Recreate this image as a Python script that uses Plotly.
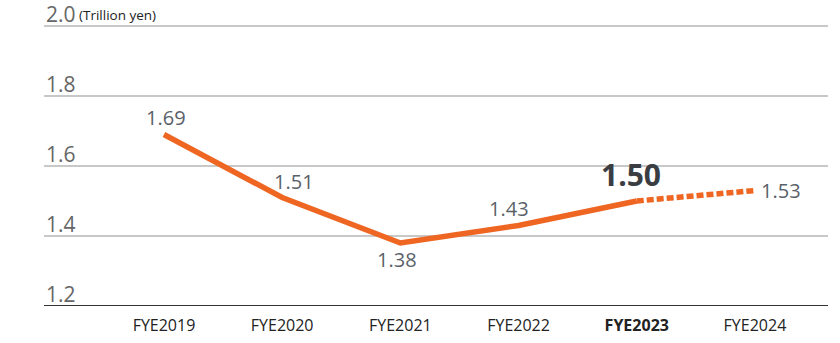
import plotly.graph_objects as go

categories = ["FYE2019", "FYE2020", "FYE2021", "FYE2022", "FYE2023", "FYE2024"]
values = [1.69, 1.51, 1.38, 1.43, 1.50, 1.53]
value_labels = ["1.69", "1.51", "1.38", "1.43", "1.50", "1.53"]
y_ticks = [1.2, 1.4, 1.6, 1.8, 2.0]
y_tick_labels = ["1.2", "1.4", "1.6", "1.8", "2.0"]
highlight = "FYE2023"
unit_label = "(Trillion yen)"

ORANGE = "#EE6622"
FONT = "Open Sans, Noto Sans, sans-serif"
x_idx = list(range(len(categories)))

fig = go.Figure()
fig.add_trace(go.Scatter(x=x_idx[:5], y=values[:5], mode="lines",
                         line=dict(color=ORANGE, width=5.5), hoverinfo="skip"))
fig.add_trace(go.Scatter(x=x_idx[4:], y=values[4:], mode="lines",
                         line=dict(color=ORANGE, width=5.5, dash="7px,3px"), hoverinfo="skip"))

# label offsets (px): (xshift, yshift, style)
offsets = [(2, 17, "n"), (12, 16, "n"), (-3, -16, "n"), (-10, 17, "n"), (-6, 27, "b"), (26, 0, "n")]
for i, (v, t) in enumerate(zip(values, value_labels)):
    dx, dy, st = offsets[i]
    if st == "b":
        font = dict(family=FONT, size=30, color="#3a3d42")
        text = "<b>" + t + "</b>"
    else:
        font = dict(family=FONT, size=20, color="#5a6169")
        text = t
    fig.add_annotation(x=x_idx[i], y=v, text=text, showarrow=False, xshift=dx, yshift=dy,
                       font=font, xanchor="center", yanchor="middle")

# y tick labels placed above gridlines
for val, lab in zip(y_ticks, y_tick_labels):
    fig.add_annotation(xref="paper", yref="y", x=0, y=val, text=lab, showarrow=False,
                       xanchor="left", yanchor="bottom", xshift=0, yshift=-4,
                       font=dict(family=FONT, size=21, color="#666"))

fig.add_annotation(xref="paper", yref="y", x=0, y=2.0, xshift=33, yshift=0, text=unit_label,
                   showarrow=False, xanchor="left", yanchor="bottom",
                   font=dict(family=FONT, size=13.5, color="#222"))

ticktext = ["<b>" + c + "</b>" if c == highlight else c for c in categories]

fig.update_layout(
    width=840, height=343,
    margin=dict(l=44, r=12, t=0, b=37),
    paper_bgcolor="white", plot_bgcolor="white",
    showlegend=False,
    xaxis=dict(range=[-1.015, 5.618], tickvals=x_idx, ticktext=ticktext, showgrid=False,
               zeroline=False, showline=False, ticks="", ticklabelstandoff=8,
               tickfont=dict(family=FONT, size=16, color="#222")),
    yaxis=dict(range=[1.2, 2.0743], tickvals=y_ticks, showticklabels=False,
               showgrid=True, gridcolor="#c8c8c8", gridwidth=1.5,
               zeroline=False, showline=False, ticks=""),
)
fig.add_hline(y=1.2, line=dict(color="#333", width=2))
fig.write_html("out.html")
